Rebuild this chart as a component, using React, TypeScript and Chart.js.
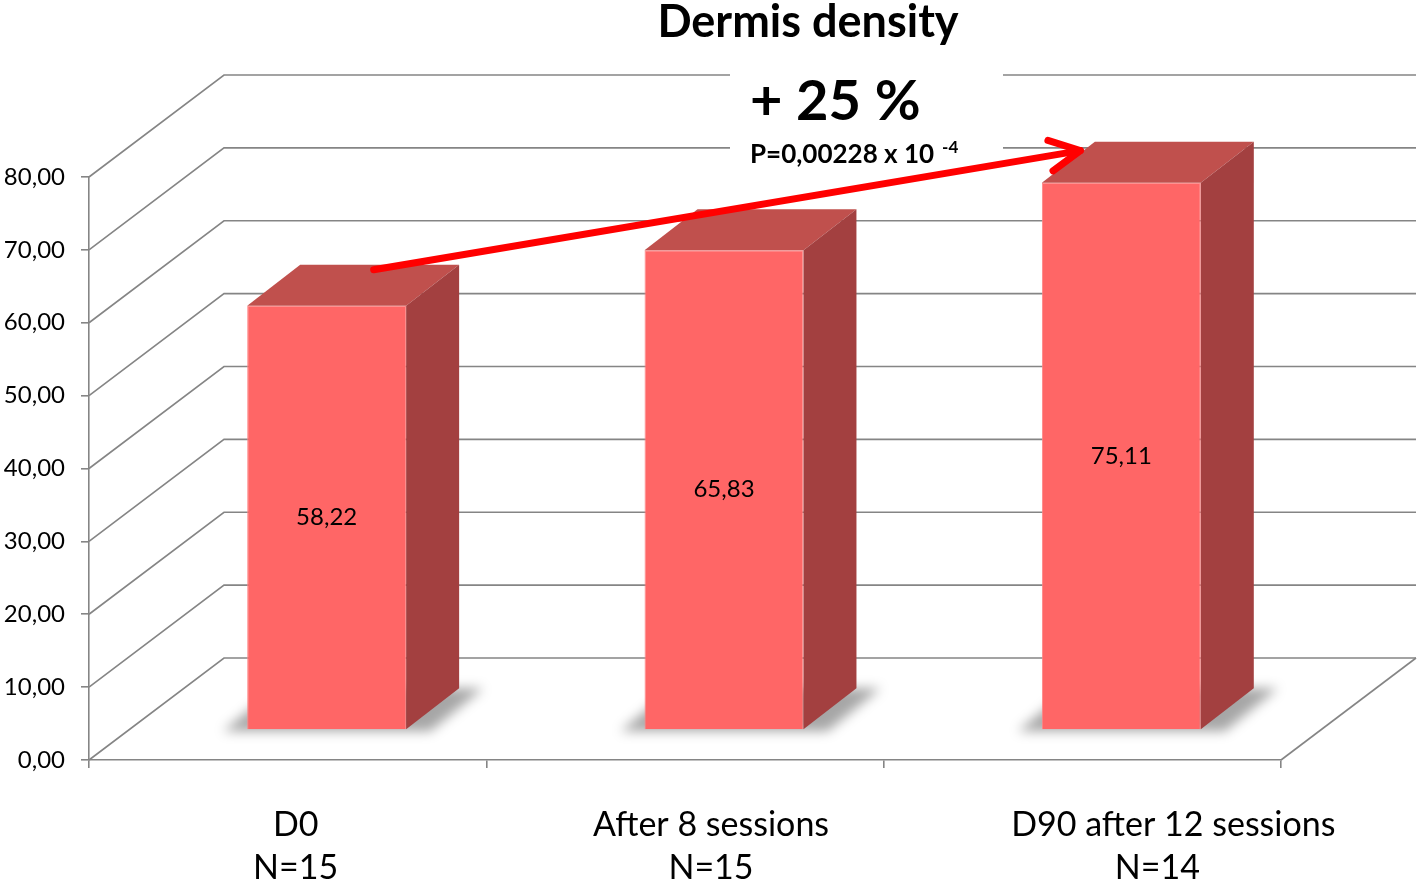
import React, { useEffect, useRef } from "react";
import { Chart, registerables } from "chart.js";

Chart.register(...registerables);

// ---- data ----
const categories = ["D0", "After 8 sessions", "D90 after 12 sessions"];
const sampleSizes = ["N=15", "N=15", "N=14"];
const density = [58.22, 65.83, 75.11];
const yMin = 0;
const yMax = 80;
const yStep = 10;
const titleText = "Dermis density";
const changeText = "+ 25 %";
const pValueText = "P=0,00228 x 10";
const pValueExp = "-4";

// ---- layout / style ----
const FONT = "Lato, 'Open Sans', sans-serif";
const GRID = "#858585";
const DEPTH = { dx: 135, dy: -102 };
const BAR_SHIFT = { dx: 39, dy: -30 };
const BAR_DEPTH = { dx: 53, dy: -41 };
const LABEL_SHIFT = [
  [8, 8],
  [26, 26],
  [91, 75],
];
const FRONT = "#FF6666";
const TOP = "#C0504D";
const SIDE = "#A34040";

const fmt = (v: number) => v.toFixed(2).replace(".", ",");

const threeD = {
  id: "threeD",
  beforeDatasetsDraw(chart: any) {
    const { ctx, chartArea: a, scales } = chart;
    const ys = scales.y;
    ctx.save();
    ctx.strokeStyle = GRID;
    ctx.lineWidth = 1.6;
    ys.ticks.forEach((t: any) => {
      const fy = ys.getPixelForValue(t.value);
      ctx.beginPath();
      ctx.moveTo(a.left, fy);
      ctx.lineTo(a.left + DEPTH.dx, fy + DEPTH.dy);
      ctx.lineTo(a.right + DEPTH.dx, fy + DEPTH.dy);
      ctx.stroke();
    });
    ctx.beginPath();
    ctx.moveTo(a.right, a.bottom);
    ctx.lineTo(a.right + DEPTH.dx, a.bottom + DEPTH.dy);
    ctx.stroke();

    // text box background (covers back gridlines)
    ctx.fillStyle = "#ffffff";
    ctx.fillRect(730, 58, 273, 110);

    // soft floor shadows
    const meta = chart.getDatasetMeta(0);
    ctx.filter = "blur(6px)";
    ctx.fillStyle = "rgba(0,0,0,0.35)";
    meta.data.forEach((b: any) => {
      const L = b.x - b.width / 2 + BAR_SHIFT.dx;
      const R = b.x + b.width / 2 + BAR_SHIFT.dx;
      const B = b.base + BAR_SHIFT.dy;
      const e = 24;
      ctx.beginPath();
      ctx.moveTo(L - e, B + 2);
      ctx.lineTo(R + e, B + 2);
      ctx.lineTo(R + BAR_DEPTH.dx + e, B + BAR_DEPTH.dy);
      ctx.lineTo(L + BAR_DEPTH.dx - e, B + BAR_DEPTH.dy);
      ctx.closePath();
      ctx.fill();
    });
    ctx.filter = "none";
    ctx.restore();

    ctx.save();
    ctx.translate(BAR_SHIFT.dx, BAR_SHIFT.dy);
  },
  afterDatasetsDraw(chart: any) {
    const { ctx } = chart;
    ctx.restore();
    const meta = chart.getDatasetMeta(0);
    ctx.save();
    meta.data.forEach((b: any, i: number) => {
      const L = b.x - b.width / 2 + BAR_SHIFT.dx;
      const R = b.x + b.width / 2 + BAR_SHIFT.dx;
      const T = b.y + BAR_SHIFT.dy;
      const B = b.base + BAR_SHIFT.dy;
      // top
      ctx.fillStyle = TOP;
      ctx.beginPath();
      ctx.moveTo(L, T);
      ctx.lineTo(R, T);
      ctx.lineTo(R + BAR_DEPTH.dx, T + BAR_DEPTH.dy);
      ctx.lineTo(L + BAR_DEPTH.dx, T + BAR_DEPTH.dy);
      ctx.closePath();
      ctx.fill();
      // side
      ctx.fillStyle = SIDE;
      ctx.beginPath();
      ctx.moveTo(R, T);
      ctx.lineTo(R + BAR_DEPTH.dx, T + BAR_DEPTH.dy);
      ctx.lineTo(R + BAR_DEPTH.dx, B + BAR_DEPTH.dy);
      ctx.lineTo(R, B);
      ctx.closePath();
      ctx.fill();
      // value label
      ctx.fillStyle = "#000";
      ctx.font = `24px ${FONT}`;
      ctx.textAlign = "center";
      ctx.textBaseline = "middle";
      ctx.fillText(fmt(density[i]), (L + R) / 2, (T + B) / 2);
    });
    ctx.restore();
  },
  afterDraw(chart: any) {
    const { ctx, scales } = chart;
    const xs = scales.x;
    const meta = chart.getDatasetMeta(0);
    ctx.save();

    // arrow
    const b0 = meta.data[0];
    const b2 = meta.data[meta.data.length - 1];
    const sx = b0.x + BAR_SHIFT.dx + 47;
    const sy = b0.y + BAR_SHIFT.dy - 36;
    const ex = b2.x + BAR_SHIFT.dx - 41;
    const ey = b2.y + BAR_SHIFT.dy - 32;
    ctx.strokeStyle = "#FF0000";
    ctx.lineWidth = 7;
    ctx.lineCap = "round";
    ctx.lineJoin = "round";
    ctx.beginPath();
    ctx.moveTo(sx, sy);
    ctx.lineTo(ex, ey);
    ctx.stroke();
    const ang = Math.atan2(sy - ey, sx - ex);
    const hl = 34;
    const ha = (27 * Math.PI) / 180;
    ctx.beginPath();
    ctx.moveTo(ex + hl * Math.cos(ang + ha), ey + hl * Math.sin(ang + ha));
    ctx.lineTo(ex, ey);
    ctx.lineTo(ex + hl * Math.cos(ang - ha), ey + hl * Math.sin(ang - ha));
    ctx.stroke();

    // texts
    ctx.fillStyle = "#000";
    ctx.textBaseline = "alphabetic";
    ctx.textAlign = "center";
    ctx.font = `bold 45px ${FONT}`;
    ctx.fillText(titleText, 808, 37);

    ctx.textAlign = "left";
    ctx.font = `bold 56px ${FONT}`;
    ctx.fillText(changeText, 750, 120);
    ctx.font = `bold 26px ${FONT}`;
    ctx.fillText(pValueText, 750, 163);
    const w = ctx.measureText(pValueText).width;
    ctx.font = `bold 17px ${FONT}`;
    ctx.fillText(pValueExp, 750 + w + 8, 153);

    // category labels
    ctx.textAlign = "center";
    ctx.font = `34px ${FONT}`;
    categories.forEach((c, i) => {
      const cx = xs.getPixelForValue(i);
      ctx.fillText(c, cx + LABEL_SHIFT[i][0], 836);
      ctx.fillText(sampleSizes[i], cx + LABEL_SHIFT[i][1], 879);
    });
    ctx.restore();
  },
};

export default function App() {
  const ref = useRef<HTMLCanvasElement | null>(null);
  useEffect(() => {
    if (!ref.current) return;
    Chart.defaults.font.family = FONT;
    const chart = new Chart(ref.current, {
      type: "bar",
      data: {
        labels: categories,
        datasets: [
          {
            data: density,
            backgroundColor: FRONT,
            borderColor: "#FF8383",
            borderWidth: 1,
            barPercentage: 0.4,
            categoryPercentage: 1,
            clip: false as any,
          },
        ],
      },
      options: {
        animation: false,
        responsive: false,
        maintainAspectRatio: false,
        layout: { padding: { top: 177, right: 137, left: 0, bottom: 0 } },
        plugins: {
          legend: { display: false },
          tooltip: { enabled: false },
          title: { display: false },
        },
        scales: {
          x: {
            grid: {
              display: true,
              drawOnChartArea: false,
              drawTicks: true,
              tickLength: 8,
              color: GRID,
              lineWidth: 1.6,
              offset: true,
            },
            border: { display: true, color: GRID, width: 1.6 },
            ticks: { display: false },
            afterFit: (s: any) => {
              s.height = 122;
            },
          },
          y: {
            min: yMin,
            max: yMax,
            ticks: {
              stepSize: yStep,
              color: "#000",
              padding: 16,
              font: { size: 24, family: FONT },
              callback: (v: any) => fmt(Number(v)),
            },
            grid: {
              drawOnChartArea: false,
              drawTicks: true,
              tickLength: 8,
              color: GRID,
              lineWidth: 1.6,
            },
            border: { display: true, color: GRID, width: 1.6 },
            afterFit: (s: any) => {
              s.width = 89;
            },
          },
        },
      },
      plugins: [threeD],
    });
    return () => chart.destroy();
  }, []);
  return (
    <div style={{ position: "fixed", left: 0, top: 0, width: 1418, height: 882, background: "#fff" }}>
      <canvas ref={ref} width={1418} height={882} style={{ display: "block" }} />
    </div>
  );
}
